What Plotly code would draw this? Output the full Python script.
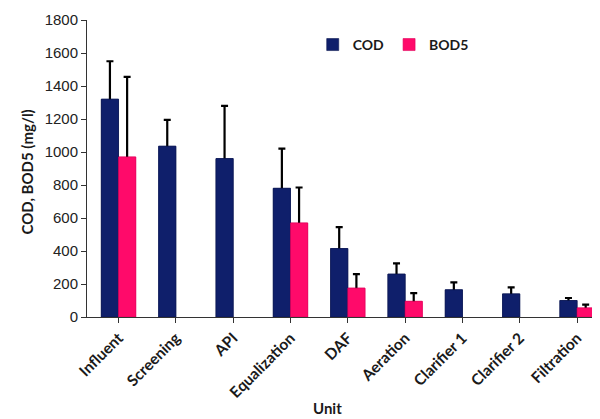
import plotly.graph_objects as go

units = ["Influent", "Screening", "API", "Equalization", "DAF", "Aeration",
         "Clarifier 1", "Clarifier 2", "Filtration"]
cod = [1320, 1035, 960, 780, 415, 260, 165, 140, 100]
cod_err = [230, 160, 320, 240, 130, 65, 45, 40, 15]
bod5 = [970, None, None, 570, 175, 95, None, None, 55]
bod5_err = [485, 0, 0, 215, 85, 50, 0, 0, 20]
y_ticks = [0, 200, 400, 600, 800, 1000, 1200, 1400, 1600, 1800]

cod_color = "#0f1f6b"
bod_color = "#ff0a6a"
cod_edge = "#0a1550"
bod_edge = "#e0005a"

# minus part kept tiny so its cap is hidden under the overlaid bar
hide = 12

fig = go.Figure()
fig.add_trace(go.Bar(
    x=units, y=cod, name="COD", offsetgroup="cod", legendrank=1,
    marker=dict(color=cod_color, line=dict(color=cod_edge, width=0.6)),
    error_y=dict(type="data", array=cod_err, arrayminus=[hide]*len(cod),
                 symmetric=False, color="black", thickness=2.2, width=3.5),
))
fig.add_trace(go.Bar(
    x=units, y=bod5, name="BOD5", offsetgroup="bod", legendrank=2,
    marker=dict(color=bod_color, line=dict(color=bod_edge, width=0.6)),
    error_y=dict(type="data", array=bod5_err, arrayminus=[hide]*len(bod5),
                 symmetric=False, color="black", thickness=2.2, width=3.5),
))
fig.add_trace(go.Bar(
    x=units, y=cod, name="COD", offsetgroup="cod", showlegend=False,
    marker=dict(color=cod_color, line=dict(color=cod_edge, width=0.6)),
))
fig.add_trace(go.Bar(
    x=units, y=bod5, name="BOD5", offsetgroup="bod", showlegend=False,
    marker=dict(color=bod_color, line=dict(color=bod_edge, width=0.6)),
))

fig.update_layout(
    width=592, height=411,
    margin=dict(l=79, r=0, t=12, b=102),
    plot_bgcolor="white", paper_bgcolor="white",
    barmode="group", bargap=0.4, bargroupgap=0,
    showlegend=True,
    legend=dict(orientation="h", x=0.44, y=0.916, xanchor="left", yanchor="middle",
                font=dict(family="Lato", size=14, color="#1a1a1a", weight="bold"),
                itemwidth=30, tracegroupgap=0, bgcolor="rgba(0,0,0,0)"),
    xaxis=dict(
        range=[-0.55, 8.4], showline=True, linecolor="#333", linewidth=1,
        ticks="outside", ticklen=5, tickcolor="#333", tickangle=-45,
        tickfont=dict(family="Lato", size=15.5, color="#1a1a1a", weight="bold"),
        showgrid=False,
    ),
    yaxis=dict(
        range=[0, 1800], tickvals=y_ticks, showline=True, linecolor="#333", linewidth=1,
        ticks="outside", ticklen=5, tickcolor="#333",
        tickfont=dict(family="Liberation Sans", size=15, color="#222"),
        showgrid=False, zeroline=False,
    ),
    annotations=[
        dict(text="Unit", xref="paper", yref="paper", x=0.468, y=-0.306,
             showarrow=False, xanchor="center", yanchor="middle",
             font=dict(family="Lato", size=15, color="#1a1a1a", weight="bold")),
        dict(text="COD, BOD5 (mg/l)", xref="paper", yref="paper", x=-0.117, y=0.49,
             showarrow=False, textangle=-90, xanchor="center", yanchor="middle",
             font=dict(family="Lato", size=15, color="#1a1a1a", weight="bold")),
    ],
)

fig.write_html("out.html")
